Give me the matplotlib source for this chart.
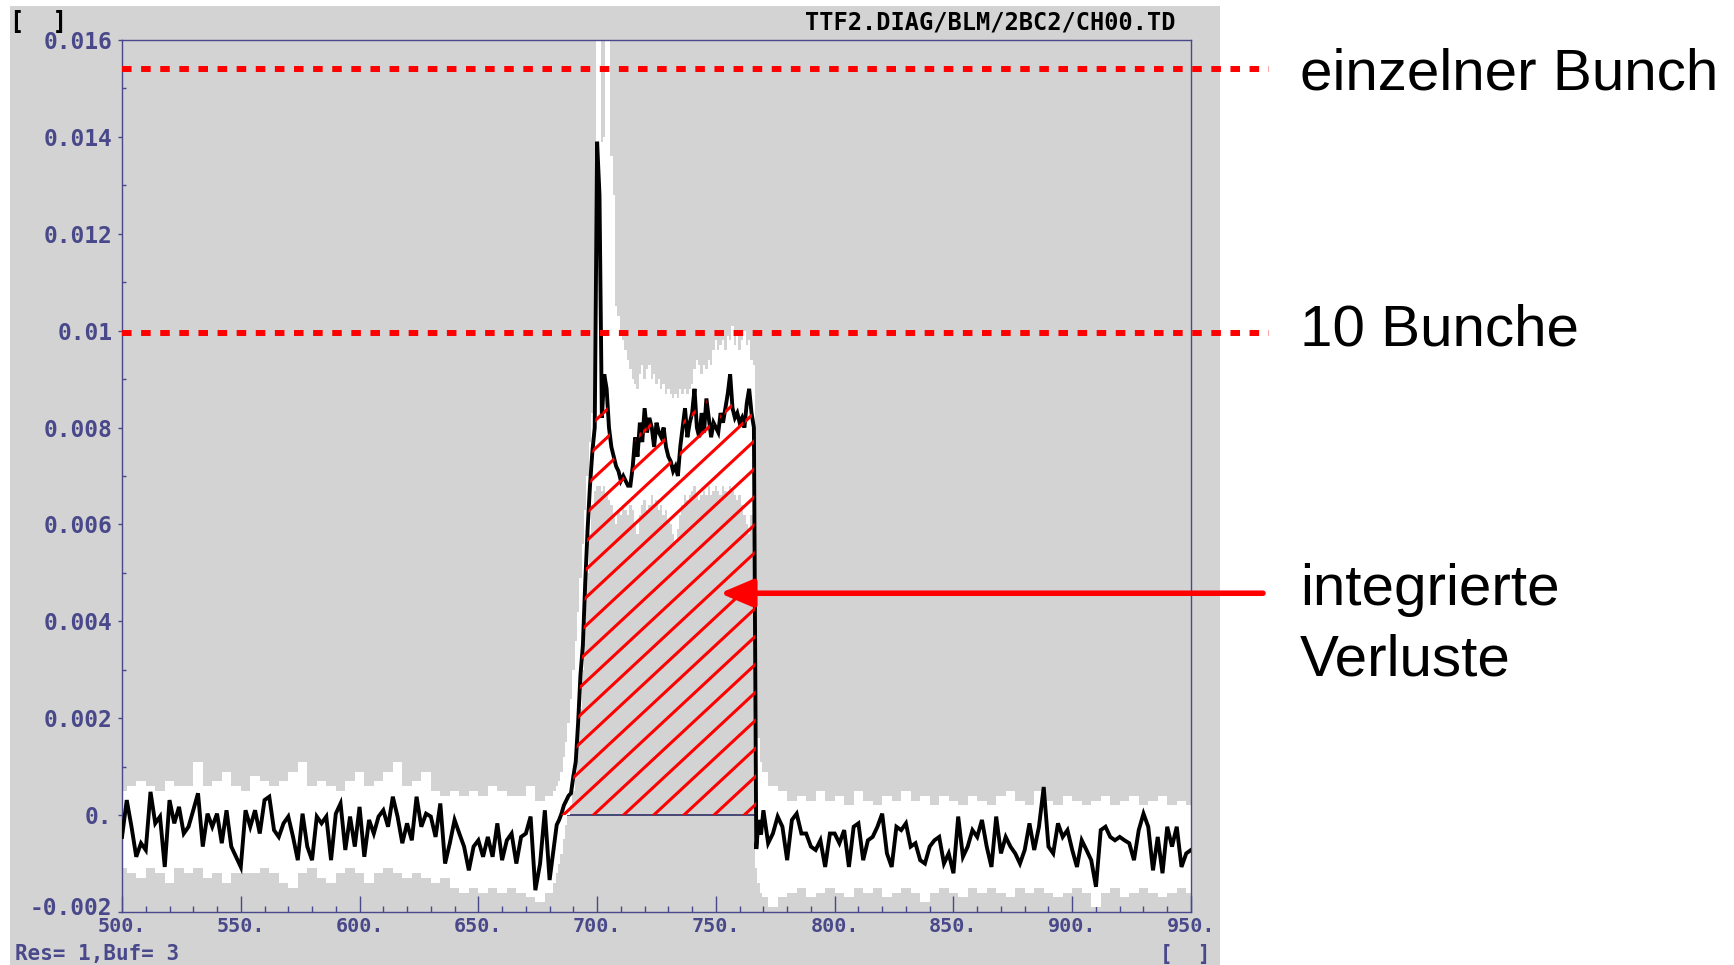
import numpy as np
import matplotlib
matplotlib.use("Agg")
import matplotlib.pyplot as plt
import matplotlib.transforms as mtransforms
from matplotlib.patches import Rectangle, Polygon

# ---------------- data ----------------
# black trace: baseline before the pulse (x = 500..682, step 2)
left_y = [-0.00045, 0.00031, -0.00024, -0.00086, -0.00058, -0.00072, 0.00048, -0.00017, -0.00003, -0.00107,
          0.00031, -0.00017, 0.00017, -0.00038, -0.00024, 0.0001, 0.00045, -0.00065, 0.00003, -0.00024,
          0.00003, -0.00058, 0.0001, -0.00065, -0.00086, -0.00107, 0.0001, -0.00024, 0.0001, -0.00038,
          0.00031, 0.00038, -0.00031, -0.00045, -0.00017, -0.00003, -0.00045, -0.00093, 0.00003, -0.00065,
          -0.00093, -0.00003, -0.00017, -0.00003, -0.00093, 0.00003, 0.00024, -0.00072, -0.00003, -0.00065,
          0.00017, -0.00086, -0.0001, -0.00038, -0.00003, 0.0001, -0.00024, 0.00038, -0.00003, -0.00058,
          -0.00017, -0.00052, 0.00038, -0.00024,
          0.00003, -0.00003, -0.00045, 0.00024, -0.001, -0.00058, -0.0001, -0.00038, -0.00065, -0.00114,
          -0.00065, -0.00052, -0.00086, -0.00045, -0.00086, -0.00017, -0.00093, -0.00052, -0.00038, -0.001,
          -0.00045, -0.00038, -0.00003, -0.00155, -0.001, 0.0001, -0.00134, -0.00058]
# black trace: pulse (x = 683..769, step 1)
pulse_y = [-0.0002, -0.0001, 0.00003, 0.0002, 0.0003, 0.0004, 0.00045, 0.0008, 0.0011, 0.0019,
           0.0029, 0.0035, 0.0048, 0.0059, 0.0068, 0.0075, 0.0080, 0.0139, 0.0128, 0.0082,
           0.0091, 0.0088, 0.0080, 0.0076, 0.0074, 0.0072, 0.0071, 0.0069, 0.0070, 0.0069,
           0.0068, 0.0068, 0.0072, 0.0078, 0.0074, 0.0081, 0.0077, 0.0084, 0.0079, 0.0082,
           0.0080, 0.0076, 0.0081, 0.0079, 0.0078, 0.0080, 0.0076, 0.0074, 0.0073, 0.0071,
           0.0072, 0.0070, 0.0076, 0.0080, 0.0084, 0.0078, 0.0081, 0.0083, 0.0088, 0.0080,
           0.0078, 0.0083, 0.0079, 0.0086, 0.0082, 0.0078, 0.0081, 0.0080, 0.0079, 0.0083,
           0.0081, 0.0084, 0.0087, 0.0091, 0.0084, 0.0082, 0.0083, 0.0081, 0.0082, 0.0080,
           0.0085, 0.0088, 0.0083, 0.0080, -0.0007, -0.0001, -0.0004]
# black trace: baseline after the pulse (x = 770..950, step 2)
right_y = [0.0001, -0.00058, -0.00038, -0.00003, -0.00024, -0.00093, -0.0001, 0.00003, -0.00038, -0.00038,
           -0.00065, -0.00072, -0.00052, -0.00107, -0.00038, -0.00038, -0.00058, -0.00031, -0.00107, -0.00024,
           -0.00017, -0.00093, -0.00052, -0.00045, -0.00024, 0.00003, -0.00079, -0.00107, -0.00024, -0.00031,
           -0.00017, -0.00065, -0.00058, -0.00093, -0.001, -0.00065, -0.00052, -0.00045, -0.001, -0.00079,
           -0.0012,
           -0.00003, -0.00086, -0.00065, -0.00031, -0.00045, -0.0001, -0.00065, -0.00107, -0.00003, -0.00079,
           -0.00045, -0.00065, -0.00079, -0.001, -0.00072, -0.00017, -0.00072, -0.00024, 0.00058, -0.00065,
           -0.00079, -0.00017, -0.00045, -0.00031, -0.00072, -0.00107, -0.00052, -0.00072, -0.00093, -0.00148,
           -0.00031, -0.00024, -0.00045, -0.00052, -0.00045, -0.00052, -0.00058, -0.00093, -0.00031, 0.00003,
           -0.00024, -0.00114, -0.00045, -0.0012, -0.00024, -0.00065, -0.00024, -0.00107, -0.00079, -0.00072]

# white min/max envelope
env_left_hi = [0.0005, 0.0006, 0.0007, 0.0006, 0.0005, 0.0007, 0.0006, 0.0006, 0.0011, 0.0006,
               0.0007, 0.0009, 0.0006, 0.0005, 0.0008, 0.0007, 0.0006, 0.0007, 0.0009, 0.0011,
               0.0006, 0.0007, 0.0006, 0.0005, 0.0007, 0.0009, 0.0006, 0.0007, 0.0009, 0.0011,
               0.0006, 0.0007, 0.0009, 0.0005, 0.0004, 0.0005, 0.0004, 0.0005, 0.0004, 0.0006,
               0.0005, 0.0004, 0.0004, 0.0006, 0.0003, 0.0004]
env_left_lo = [-0.0011, -0.0012, -0.0013, -0.0011, -0.0012, -0.0014, -0.0011, -0.0012, -0.0011, -0.0013,
               -0.0012, -0.0014, -0.0012, -0.0012, -0.0012, -0.0011, -0.0012, -0.0014, -0.0015, -0.0012,
               -0.0011, -0.0013, -0.0014, -0.0012, -0.0011, -0.0012, -0.0014, -0.0012, -0.0011, -0.0012,
               -0.0013, -0.0012, -0.0013, -0.0014, -0.0013, -0.0015, -0.0016, -0.0015, -0.0016, -0.0015,
               -0.0016, -0.0015, -0.0016, -0.0017, -0.0018, -0.0016]
env_pulse_hi = [0.0004, 0.0005, 0.0006, 0.0007, 0.0009, 0.0012, 0.0015, 0.0019, 0.0024, 0.0030,
                0.0036, 0.0042, 0.0049, 0.0056, 0.0063, 0.0070, 0.0077, 0.0083, 0.0089, 0.0180,
                0.0180, 0.0139, 0.0140, 0.0180, 0.0180, 0.0136, 0.0128, 0.0105, 0.0103, 0.0100,
                0.0098, 0.0096, 0.0094, 0.0092, 0.0090, 0.0089, 0.0088, 0.0091, 0.0093, 0.0090,
                0.0092, 0.0093, 0.0090, 0.0091, 0.0089, 0.0090, 0.0088, 0.0089, 0.0087, 0.0088,
                0.0087, 0.0086, 0.0087, 0.0086, 0.0088, 0.0087, 0.0088, 0.0087, 0.0088, 0.0089,
                0.0092, 0.0094, 0.0093, 0.0091, 0.0093, 0.0092, 0.0094, 0.0093, 0.0096, 0.0098,
                0.0096, 0.0097, 0.0098, 0.0096, 0.0099, 0.0098, 0.0101, 0.0097, 0.0099, 0.0096,
                0.0098, 0.0100, 0.0097, 0.0098, 0.0094, 0.0093, 0.0030, 0.0016, 0.0011]
env_pulse_lo = [-0.0016, -0.0014, -0.0012, -0.0010, -0.0008, -0.0005, -0.0002, 0.0000, 0.0002, 0.0005,
                0.0008, 0.0014, 0.0022, 0.0030, 0.0040, 0.0050, 0.0058, 0.0064, 0.0067, 0.0068,
                0.0068, 0.0067, 0.0068, 0.0066, 0.0065, 0.0064, 0.0062, 0.0060, 0.0063, 0.0062,
                0.0064, 0.0063, 0.0062, 0.0064, 0.0063, 0.0060, 0.0058, 0.0062, 0.0064, 0.0065,
                0.0063, 0.0064, 0.0066, 0.0064, 0.0065, 0.0063, 0.0064, 0.0062, 0.0063, 0.0061,
                0.0060, 0.0058, 0.0056, 0.0059, 0.0062, 0.0064, 0.0066, 0.0065, 0.0066, 0.0067,
                0.0068, 0.0066, 0.0065, 0.0066, 0.0067, 0.0066, 0.0068, 0.0066, 0.0067, 0.0068,
                0.0067, 0.0066, 0.0068, 0.0067, 0.0066, 0.0068, 0.0067, 0.0066, 0.0065, 0.0066,
                0.0064, 0.0062, 0.0060, 0.0058, 0.0062, 0.0065, -0.0011, -0.0014, -0.0016]
env_right_hi = [0.0009, 0.0006, 0.0005, 0.0003, 0.0004, 0.0003, 0.0005, 0.0003, 0.0004, 0.0002,
                0.0005, 0.0003, 0.0002, 0.0004, 0.0003, 0.0005, 0.0003, 0.0004, 0.0002, 0.0004,
                0.0003, 0.0002, 0.0004, 0.0003, 0.0002, 0.0004, 0.0005, 0.0003, 0.0002, 0.0005,
                0.0003, 0.0002, 0.0004, 0.0003, 0.0002, 0.0003, 0.0004, 0.0002, 0.0003, 0.0004,
                0.0002, 0.0003, 0.0004, 0.0002, 0.0003, 0.0002]
env_right_lo = [-0.0017, -0.0019, -0.0017, -0.0016, -0.0015, -0.0017, -0.0016, -0.0015, -0.0016, -0.0017,
                -0.0015, -0.0016, -0.0015, -0.0017, -0.0016, -0.0015, -0.0016, -0.0018, -0.0016, -0.0015,
                -0.0016, -0.0017, -0.0015, -0.0016, -0.0015, -0.0016, -0.0017, -0.0015, -0.0016, -0.0015,
                -0.0016, -0.0017, -0.0016, -0.0015, -0.0016, -0.0019, -0.0016, -0.0015, -0.0017, -0.0016,
                -0.0015, -0.0016, -0.0017, -0.0016, -0.0015, -0.0016]

level_single = 0.0154       # "einzelner Bunch"
level_ten = 0.00996         # "10 Bunche"
hatch_cap = 0.0087
arrow_y = 0.00458
arrow_tip_x, arrow_tail_x = 751.7, 980.3
dash_end_x = 983.0

x_ticks = [500, 550, 600, 650, 700, 750, 800, 850, 900, 950]
x_ticklabels = ["500.", "550.", "600.", "650.", "700.", "750.", "800.", "850.", "900.", "950."]
y_ticks = [-0.002, 0.0, 0.002, 0.004, 0.006, 0.008, 0.010, 0.012, 0.014, 0.016]
y_ticklabels = ["-0.002", "0.", "0.002", "0.004", "0.006", "0.008", "0.01", "0.012", "0.014", "0.016"]

# sample grids
left_x = np.arange(500, 683, 2)
pulse_x = np.arange(683, 770, 1)
right_x = np.arange(770, 951, 2)
env_left_x = np.arange(500, 681, 4)
env_pulse_x = np.arange(681, 770, 1)
env_right_x = np.arange(770, 951, 4)
assert len(left_x) == len(left_y) and len(pulse_x) == len(pulse_y) and len(right_x) == len(right_y)
assert len(env_left_x) == len(env_left_hi) == len(env_left_lo)
assert len(env_pulse_x) == len(env_pulse_hi) == len(env_pulse_lo)
assert len(env_right_x) == len(env_right_hi) == len(env_right_lo)

trace_x = np.concatenate([left_x, pulse_x, right_x])
trace_y = np.concatenate([left_y, pulse_y, right_y])
env_x = np.concatenate([env_left_x, env_pulse_x, env_right_x])
env_hi = np.concatenate([env_left_hi, env_pulse_hi, env_right_hi])
env_lo = np.concatenate([env_left_lo, env_pulse_lo, env_right_lo])

# ---------------- figure ----------------
W, H = 1734, 965
GRAY = "#d3d3d3"
BLUE = "#48488a"
MONO = "DejaVu Sans Mono"

fig = plt.figure(figsize=(W / 100, H / 100), dpi=100)
fig.patch.set_facecolor("white")
fig.patches.append(Rectangle((10 / W, 0), 1210 / W, 959 / H, transform=fig.transFigure,
                             facecolor=GRAY, edgecolor="none", zorder=-5))

ax = fig.add_axes([122 / W, 1 - 912 / H, 1069 / W, 872 / H])
ax.set_zorder(1)
ax.set_facecolor(GRAY)
ax.set_xlim(500, 950)
ax.set_ylim(-0.002, 0.016)

# zero line (mostly hidden by the white envelope)
ax.axhline(0, color="#3c3c70", lw=1.3, zorder=1)
# white min/max band
ax.fill_between(env_x, env_lo, env_hi, step="mid", color="white", lw=0, zorder=2)
# black trace
ax.plot(trace_x, trace_y, color="black", lw=2.8, zorder=3, solid_joinstyle="miter")

# hatched integral area
sel = (pulse_x >= 684) & (pulse_x <= 767)
hx = pulse_x[sel]
hy = np.clip(np.array(pulse_y)[sel], 0, hatch_cap)
verts = [(683.6, 0.0)] + list(zip(hx, hy)) + [(767.0, 0.0)]
poly = Polygon(verts, closed=True, facecolor="none", edgecolor="none", transform=ax.transData)
ax.add_patch(poly)
m = 0.93 * (1069 / 450) / (872 / 0.018)   # data slope for ~43 deg screen angle
x0, dx = 698.4, 12.7
for k in range(-18, 8):
    xs = np.array([675.0, 775.0])
    ys = m * (xs - x0 - k * dx)
    ln, = ax.plot(xs, ys, color="#ff0000", lw=2.2, zorder=5, solid_capstyle="butt")
    ln.set_clip_path(poly)

# dashed reference levels (extend outside the plot)
for lev in (level_single, level_ten):
    ax.plot([500, dash_end_x], [lev, lev], color="#ff0000", lw=4.3, linestyle=(0, (1.6, 1.6)),
            dash_capstyle="butt", clip_on=False, zorder=6)

# arrow
ax.annotate("", xy=(arrow_tip_x, arrow_y), xytext=(arrow_tail_x, arrow_y),
            arrowprops=dict(arrowstyle="-|>,head_length=2.0,head_width=0.85", mutation_scale=10,
                            lw=4, color="#ff0000", shrinkA=0, shrinkB=0),
            annotation_clip=False, zorder=7)

# axes styling
for sp in ax.spines.values():
    sp.set_color(BLUE)
    sp.set_linewidth(1.0)
ax.set_xticks(x_ticks)
ax.set_xticklabels(x_ticklabels, fontfamily=MONO, fontweight="bold", fontsize=14.5, color=BLUE)
ax.set_xticks(np.arange(500, 951, 10), minor=True)
ax.set_yticks(y_ticks)
ax.set_yticklabels(y_ticklabels, fontfamily=MONO, fontweight="bold", fontsize=16.5, color=BLUE)
ax.set_yticks(np.arange(-0.001, 0.016, 0.002), minor=True)
ax.tick_params(axis="x", which="major", direction="in", length=11.5, width=1, color=BLUE, pad=3.5)
ax.tick_params(axis="x", which="minor", direction="in", length=4.3, width=1, color=BLUE)
ax.tick_params(axis="y", which="major", direction="out", length=3, width=1, color=BLUE, pad=4)
ax.tick_params(axis="y", which="minor", direction="in", length=3, width=1, color=BLUE)

# lift the lowest y label a little (as on the screen) so it clears the "500." label
low_label = ax.yaxis.get_major_ticks()[0].label1
low_label.set_transform(low_label.get_transform() +
                        mtransforms.ScaledTranslation(0, 6 / 100, fig.dpi_scale_trans))

# screen texts
fig.text(1176 / W, 1 - 22 / H, "TTF2.DIAG/BLM/2BC2/CH00.TD", ha="right", va="center",
         family=MONO, weight="bold", size=17, color="black")
fig.text(10 / W, 1 - 22 / H, "[  ]", ha="left", va="center", family=MONO, weight="bold",
         size=17, color="black")
fig.text(15 / W, 1 - 960 / H, "Res= 1,Buf= 3", ha="left", va="baseline", family=MONO,
         weight="bold", size=15, color=BLUE)
fig.text(1211 / W, 1 - 960 / H, "[  ]", ha="right", va="baseline", family=MONO, weight="bold",
         size=15, color=BLUE)

# annotations
SANS = "Liberation Sans"
fig.text(1300 / W, 1 - 90 / H, "einzelner Bunch", ha="left", va="baseline", family=SANS, size=42)
fig.text(1300 / W, 1 - 346 / H, "10 Bunche", ha="left", va="baseline", family=SANS, size=42)
fig.text(1300 / W, 1 - 605 / H, "integrierte", ha="left", va="baseline", family=SANS, size=42)
fig.text(1300 / W, 1 - 675 / H, "Verluste", ha="left", va="baseline", family=SANS, size=42)

fig.savefig("out.png", dpi=100, facecolor="white")
